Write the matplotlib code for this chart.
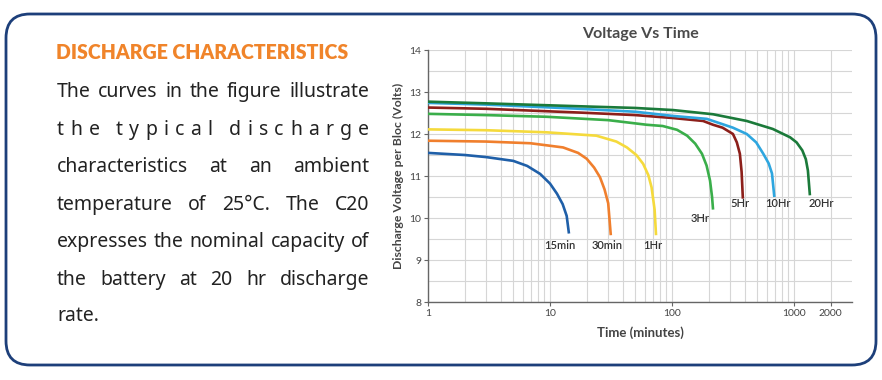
import matplotlib
matplotlib.use("Agg")
import matplotlib.pyplot as plt
from matplotlib.patches import FancyBboxPatch
import numpy as np

# ---------------- data ----------------
t_15min = [1, 2, 3, 5, 6.5, 8.3, 10, 11.4, 12.7, 13.7, 14.3]
v_15min = [11.55, 11.50, 11.45, 11.36, 11.24, 11.05, 10.82, 10.58, 10.33, 10.05, 9.63]

t_30min = [1, 3, 6.9, 12.8, 17, 20, 23, 25.7, 28, 30, 31.5]
v_30min = [11.84, 11.82, 11.78, 11.68, 11.55, 11.41, 11.20, 10.97, 10.68, 10.35, 9.59]

t_1hr = [1, 3, 9.4, 24, 35, 42.7, 51, 58, 64, 68, 72, 74]
v_1hr = [12.11, 12.09, 12.04, 11.96, 11.82, 11.68, 11.50, 11.29, 11.02, 10.73, 10.2, 9.59]

t_3hr = [1, 3, 9.4, 30, 62, 84, 110, 133, 155, 176, 192, 205, 213, 217]
v_3hr = [12.48, 12.45, 12.41, 12.33, 12.22, 12.19, 12.10, 11.96, 11.77, 11.53, 11.25, 10.89, 10.5, 10.2]

t_5hr = [1, 3, 17.6, 50, 102, 180, 217, 260, 316, 340, 360, 372, 381]
v_5hr = [12.63, 12.60, 12.51, 12.45, 12.38, 12.31, 12.22, 12.15, 12.0, 11.8, 11.53, 11.1, 10.46]

t_10hr = [1, 3, 17.6, 50, 102, 193, 316, 410, 490, 560, 620, 660, 690]
v_10hr = [12.74, 12.70, 12.60, 12.53, 12.43, 12.36, 12.15, 12.0, 11.8, 11.53, 11.3, 11.06, 10.5]

t_20hr = [1, 3, 17.6, 50, 102, 217, 410, 670, 930, 1050, 1170, 1250, 1300, 1350]
v_20hr = [12.77, 12.73, 12.66, 12.62, 12.57, 12.47, 12.31, 12.12, 11.92, 11.8, 11.61, 11.4, 11.13, 10.54]

series_names = ["15min", "30min", "1Hr", "3Hr", "5Hr", "10Hr", "20Hr"]
series_t = [t_15min, t_30min, t_1hr, t_3hr, t_5hr, t_10hr, t_20hr]
series_v = [v_15min, v_30min, v_1hr, v_3hr, v_5hr, v_10hr, v_20hr]
series_colors = ["#1f5fa8", "#f07f2d", "#f5da3c", "#3aae4a", "#8c1f1a", "#2ea6df", "#1b7a3a"]
# label anchor (time, voltage) for each curve label
label_t = [12.1, 29.4, 70, 169, 361, 736, 1685]
label_v = [9.35, 9.35, 9.35, 10.0, 10.35, 10.35, 10.35]

x_ticks = [1, 10, 100, 1000, 2000]
x_ticklabels = ["1", "10", "100", "1000", "2000"]
y_ticks = [8, 9, 10, 11, 12, 13, 14]

heading = "DISCHARGE CHARACTERISTICS"
body_lines = [
    "The curves in the figure illustrate",
    "the typical discharge",
    "characteristics at an ambient",
    "temperature of 25°C. The C20",
    "expresses the nominal capacity of",
    "the battery at 20 hr discharge",
    "rate.",
]

# ---------------- figure ----------------
W, H = 882, 380
fig = plt.figure(figsize=(W / 100, H / 100), dpi=100)
fig.patch.set_facecolor("white")

bg = fig.add_axes([0, 0, 1, 1])
bg.set_xlim(0, W)
bg.set_ylim(H, 0)
bg.axis("off")
box = FancyBboxPatch((6, 14), 870, 351, boxstyle="round,pad=0,rounding_size=24",
                     linewidth=2.0, edgecolor="#1d3f7a", facecolor="white")
bg.add_patch(box)

# ---------------- chart ----------------
L, R, T, B = 428, 852, 50, 302
ax = fig.add_axes([L / W, 1 - B / H, (R - L) / W, (B - T) / H])
ax.set_xscale("log")
ax.set_xlim(1, 10 ** ((R - L) / 122))
ax.set_ylim(8, 14)

for name, tt, vv, c in zip(series_names, series_t, series_v, series_colors):
    ax.plot(tt, vv, color=c, lw=1.9, solid_capstyle="butt", zorder=3)
for name, lt, lv in zip(series_names, label_t, label_v):
    ax.text(lt, lv, name, ha="center", va="center", fontsize=8, fontweight="semibold",
            color="#333333", family="Lato", zorder=4)

ax.set_xticks(x_ticks)
ax.set_xticklabels(x_ticklabels)
ax.set_yticks(y_ticks)
ax.set_yticks(np.arange(8.5, 14, 1.0), minor=True)
ax.xaxis.set_minor_locator(matplotlib.ticker.LogLocator(base=10, subs=np.arange(2, 10)))
ax.xaxis.set_minor_formatter(matplotlib.ticker.NullFormatter())
ax.grid(True, which="both", color="#d6d6d6", lw=0.8)
ax.set_axisbelow(True)
for s in ["top", "right"]:
    ax.spines[s].set_visible(False)
for s in ["left", "bottom"]:
    ax.spines[s].set_color("#666666")
    ax.spines[s].set_linewidth(1.0)
ax.tick_params(which="major", length=3, width=0.8, color="#666666",
               labelsize=7.5, labelcolor="#444444", pad=2)
ax.tick_params(which="minor", length=0)
for lab in ax.get_xticklabels() + ax.get_yticklabels():
    lab.set_family("Lato")

ax.set_title("Voltage Vs Time", fontsize=11.5, fontweight="bold", color="#4a4a4a",
             family="Lato", pad=9)
ax.set_xlabel("Time (minutes)", fontsize=9.5, fontweight="bold", color="#444444",
              family="Lato", labelpad=6)
ax.set_ylabel("Discharge Voltage per Bloc (Volts)", fontsize=8.8, fontweight="bold",
              color="#444444", family="Lato", labelpad=4)

# ---------------- left text ----------------
htxt = bg.text(56, 59, heading, fontsize=14, fontweight="heavy", color="#f0842a",
               family="Lato", va="baseline", ha="left")

renderer = fig.canvas.get_renderer()
hw = htxt.get_window_extent(renderer=renderer).width
htxt.set_fontsize(14 * 294 / hw)

x0, x1 = 57, 369
baselines = [97, 135, 172, 210, 247, 285, 321]
body_font = "Noto Sans"
body_weight = "semibold"

# choose font size so that the tightest line fits the column with normal spacing
probe = bg.text(0, 0, body_lines[4], fontsize=13, fontweight=body_weight,
                family=body_font)
pw = probe.get_window_extent(renderer=renderer).width
probe.remove()
fs = 13 * (x1 - x0 - 2) / pw

for i, (line, yb) in enumerate(zip(body_lines, baselines)):
    if i == 1:
        units = []
        gaps = []
        words = line.split(" ")
        for wi, wd in enumerate(words):
            for ci, ch in enumerate(wd):
                units.append(ch)
                if ci < len(wd) - 1:
                    gaps.append(1.0)
            if wi < len(words) - 1:
                gaps.append(2.6)
    else:
        units = line.split(" ")
        gaps = [1.0] * (len(units) - 1)
    texts = [bg.text(0, yb, tk, fontsize=fs, fontweight=body_weight, color="#222222",
                     family=body_font, va="baseline", ha="left") for tk in units]
    widths = [tx.get_window_extent(renderer=renderer).width for tx in texts]
    if i == len(body_lines) - 1 or not gaps:
        unit_gap = fs * 0.3
    else:
        unit_gap = (x1 - x0 - sum(widths)) / sum(gaps)
    x = x0
    for k, (tx, w) in enumerate(zip(texts, widths)):
        tx.set_x(x)
        if k < len(gaps):
            x += w + unit_gap * gaps[k]

fig.savefig("out.png", dpi=100, facecolor="white")
